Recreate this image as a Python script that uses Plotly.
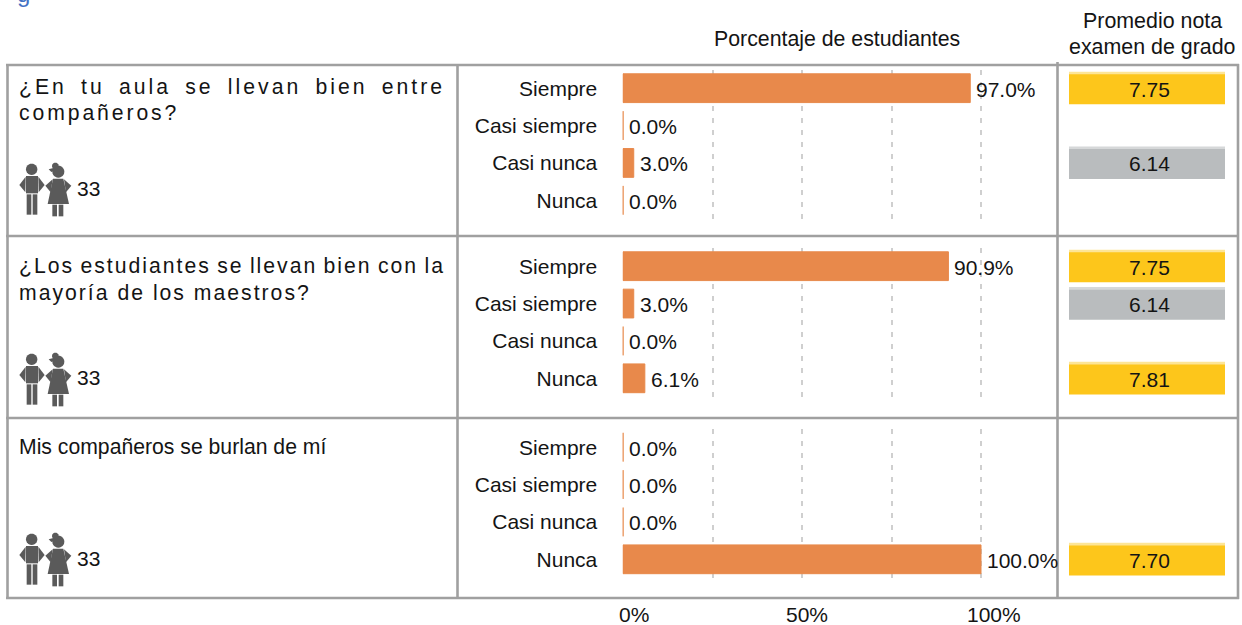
import json
import math
import plotly.graph_objects as go

W, H = 1242, 625

CATEGORIES = ["Siempre", "Casi siempre", "Casi nunca", "Nunca"]
PCT_Q1 = [97.0, 0.0, 3.0, 0.0]
PCT_Q2 = [90.9, 3.0, 0.0, 6.1]
PCT_Q3 = [0.0, 0.0, 0.0, 100.0]
GRADE_Q1 = [7.75, None, 6.14, None]
GRADE_Q2 = [7.75, 6.14, None, 7.81]
GRADE_Q3 = [None, None, None, 7.70]
COUNTS = [33, 33, 33]
AXIS_LABELS = ["0%", "50%", "100%"]
AXIS_LABEL_X = [634, 807, 994]
Q_LINES = [["¿En tu aula se llevan bien entre", "compañeros?"],
           ["¿Los estudiantes se llevan bien con la", "mayoría de los maestros?"],
           ["Mis compañeros se burlan de mí"]]

PCTS = [PCT_Q1, PCT_Q2, PCT_Q3]
GRADES = [GRADE_Q1, GRADE_Q2, GRADE_Q3]

ORANGE = "#E8894B"
YELLOW = "#FDC61B"
YELLOW_TOP = "#FDE596"
GREY = "#B9BCBE"
GREY_TOP = "#D6D8D9"
BORDER = "#A0A0A0"
GRID = "#CFCFCF"
ICON = "#5A5A5A"
TXT = "#141414"
FONT = "Liberation Sans"
FS = 21

def px(x):
    return x / W
def py(y):
    return 1 - y / H

PANEL_TOP = [69.5, 247.5, 428.5]
PANEL_H = 149.5
PCT_X = (622.5, 982.5)
PCT_RANGE = [-0.14, 100.42]
GRADE_X = (1069, 1225)
GRID_DASH = "5px,7px"

fig = go.Figure()
layout = dict(
    width=W, height=H, margin=dict(l=0, r=0, t=0, b=0), autosize=False,
    paper_bgcolor="white", plot_bgcolor="rgba(0,0,0,0)", showlegend=False,
    barmode="overlay", font=dict(family=FONT, size=FS, color=TXT),
)
annotations = []
shapes = []

for i in range(3):
    dom = [py(PANEL_TOP[i] + PANEL_H), py(PANEL_TOP[i])]
    n1, n2 = 2 * i + 1, 2 * i + 2
    sfx1 = "" if n1 == 1 else str(n1)
    x1, y1, x2, y2 = f"x{sfx1}", f"y{sfx1}", f"x{n2}", f"y{n2}"
    fig.add_trace(go.Bar(y=CATEGORIES, x=PCTS[i], orientation="h", xaxis=x1, yaxis=y1,
                         width=0.77, marker=dict(color=ORANGE, line=dict(color=ORANGE, width=1)),
                         hovertemplate="%{y}: %{x:.1f}%<extra></extra>"))
    layout[f"xaxis{sfx1}"] = dict(domain=[px(PCT_X[0]), px(PCT_X[1])], range=PCT_RANGE, anchor=y1,
                                  tickvals=[0, 25, 50, 75, 100], showticklabels=False, ticks="",
                                  showgrid=True, griddash=GRID_DASH, gridcolor=GRID, gridwidth=1.5,
                                  zeroline=False, showline=False, layer="below traces")
    layout[f"yaxis{sfx1}"] = dict(domain=dom, anchor=x1, type="category", categoryorder="array",
                                  categoryarray=CATEGORIES, autorange="reversed",
                                  ticks="outside", ticklen=20, tickcolor="rgba(0,0,0,0)",
                                  tickfont=dict(family=FONT, size=FS, color=TXT),
                                  showgrid=False, zeroline=False, showline=False)
    for c, v in zip(CATEGORIES, PCTS[i]):
        annotations.append(dict(x=v, y=c, xref=x1, yref=y1, text=f"{v:.1f}%", showarrow=False,
                                xanchor="left", yanchor="middle", xshift=4, yshift=-1,
                                font=dict(family=FONT, size=FS, color=TXT)))
    # grade column: every bar fills the column, the grade is the label
    g = GRADES[i]
    fill = [1 if v is not None else None for v in g]
    main = [(YELLOW if v is not None and v >= 7 else GREY) for v in g]
    top = [(YELLOW_TOP if v is not None and v >= 7 else GREY_TOP) for v in g]
    fig.add_trace(go.Bar(y=CATEGORIES, x=fill, orientation="h", xaxis=x2, yaxis=y2,
                         width=0.5, offset=-0.44, marker=dict(color=top, line=dict(width=0)),
                         hoverinfo="skip"))
    fig.add_trace(go.Bar(y=CATEGORIES, x=fill, orientation="h", xaxis=x2, yaxis=y2,
                         width=0.8, offset=-0.37, marker=dict(color=main, line=dict(width=0)),
                         customdata=g, hovertemplate="%{y}: %{customdata}<extra></extra>"))
    for c, v in zip(CATEGORIES, g):
        if v is not None:
            annotations.append(dict(x=0.5, y=c, xref=x2, yref=y2, text=f"{v:.2f}", showarrow=False,
                                    xanchor="center", yanchor="middle", xshift=2, yshift=-1,
                                    font=dict(family=FONT, size=FS, color=TXT)))
    layout[f"xaxis{n2}"] = dict(domain=[px(GRADE_X[0] - 1), px(GRADE_X[1])], range=[-0.0064, 1], anchor=y2,
                                tickvals=[0], showticklabels=False, ticks="", showgrid=True,
                                griddash=GRID_DASH, gridcolor=GRID, gridwidth=1.5,
                                zeroline=False, showline=False, layer="below traces")
    layout[f"yaxis{n2}"] = dict(domain=dom, anchor=x2, type="category", categoryorder="array",
                                categoryarray=CATEGORIES, autorange="reversed",
                                showticklabels=False, ticks="", showgrid=False,
                                zeroline=False, showline=False)

def note(x, y, text, xanchor="left", size=FS, color=TXT, yanchor="middle"):
    annotations.append(dict(x=px(x), y=py(y), xref="paper", yref="paper", text=text, showarrow=False,
                            xanchor=xanchor, yanchor=yanchor, borderpad=0, borderwidth=0,
                            font=dict(family=FONT, size=size, color=color)))

note(837, 39, "Porcentaje de estudiantes", "center", size=21.3)
note(1152, 21, "Promedio nota", "center", size=21.4)
note(1152, 47.5, "examen de grado", "center", size=21.4)
for lab, x in zip(AXIS_LABELS, AXIS_LABEL_X):
    note(x, 614.5, lab, "center")
note(17, 7, "g", color="#4472C4", yanchor="bottom", size=24)

Q_Y = [(86.5, 113.5), (265.5, 292.5), (446.5,)]
for lines, ys in zip(Q_LINES, Q_Y):
    for line, y in zip(lines, ys):
        note(19, y, line, size=21.2)

COUNT_Y = [188.5, 377.5, 558.5]
ICON_DY = [0, 190, 370]
for c, y in zip(COUNTS, COUNT_Y):
    note(77, y, str(c))

# table rules
def rule(x0, y0, x1, y1):
    shapes.append(dict(type="line", xref="paper", yref="paper", x0=px(x0), y0=py(y0), x1=px(x1), y1=py(y1),
                       line=dict(color=BORDER, width=2.6), layer="above"))
for y in (65, 236, 418, 598):
    rule(6, y, 1239, y)
rule(7.5, 64, 7.5, 599)
rule(457.5, 64, 457.5, 599)
rule(1057.5, 62, 1057.5, 599)
rule(1238, 64, 1238, 599)

# pictograms: outlines in pixels of the first row
def poly(pts, dy):
    return "M" + " L".join(f"{px(10 + a / 3):.5f},{py(150 + b / 3 + dy):.5f}" for a, b in pts) + " Z"
def circle(cx, cy, r, dy):
    n = 24
    return poly([(cx + r * math.cos(2 * math.pi * k / n), cy + r * math.sin(2 * math.pi * k / n)) for k in range(n)], dy)

ICON_POLYS = [
    [(48, 78), (84, 78), (84, 130), (48, 130)],
    [(47, 80), (28, 105), (46, 127)],
    [(85, 80), (104, 105), (86, 127)],
    [(50, 133), (64, 133), (64, 194), (50, 194)],
    [(68, 133), (82, 133), (82, 194), (68, 194)],
    [(129, 86), (160, 86), (177, 162), (113, 162)],
    [(128, 88), (106, 107), (122, 127)],
    [(162, 88), (184, 107), (168, 127)],
    [(127, 164), (141, 164), (141, 199), (127, 199)],
    [(146, 164), (160, 164), (160, 199), (146, 199)],
    [(138, 52), (116, 58), (124, 66), (140, 60)],
]
ICON_CIRCLES = [(65, 58, 17), (145, 65, 18), (136, 48, 10)]
for dy in ICON_DY:
    parts = [poly(p, dy) for p in ICON_POLYS] + [circle(a, b, r, dy) for a, b, r in ICON_CIRCLES]
    for d in parts:
        shapes.append(dict(type="path", xref="paper", yref="paper", path=d, fillcolor=ICON,
                           line=dict(width=0), layer="above"))

layout["annotations"] = annotations
layout["shapes"] = shapes
fig.update_layout(**layout)

SPACING = {
    "¿En tu aula se llevan bien entre": [3.0, 426],
    "compañeros?": [2.9, None],
    "¿Los estudiantes se llevan bien con la": [2.0, 426],
    "mayoría de los maestros?": [2.0, None],
}
post = """
document.body.style.margin='0';document.body.style.overflow='hidden';
var S=%s;
document.querySelectorAll('.annotation-text').forEach(function(t){
  var s=S[t.textContent]; if(!s) return;
  var left=t.getBBox().x;
  t.setAttribute('text-anchor','start');
  t.setAttribute('x',left);
  t.setAttribute('letter-spacing',s[0]);
  if(s[1]){var n=t.getComputedTextLength();var c=t.textContent.split(' ').length-1;
    t.setAttribute('word-spacing',(s[1]-n)/c);}
});
""" % json.dumps(SPACING, ensure_ascii=False)
fig.write_html("out.html", post_script=post, config={"displayModeBar": False})
